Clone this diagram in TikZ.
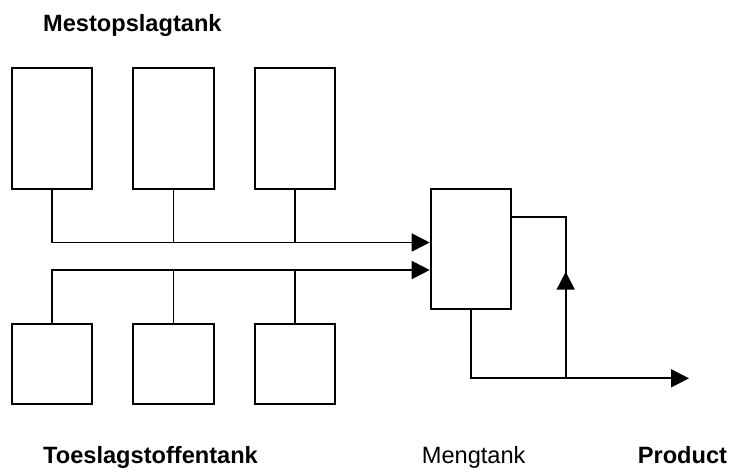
\documentclass[tikz,border=0pt]{standalone}
\usepackage{fontspec}
\setmainfont{Liberation Sans}
\usetikzlibrary{arrows.meta}

\begin{document}
\begin{tikzpicture}[x=1pt,y=-1pt,
    tank/.style={draw,line width=1.8pt,inner sep=0pt,minimum width=80.5pt},
    pipe/.style={line width=1.8pt},
    flow/.style={pipe,-{Triangle[length=18pt,width=18pt]}},
    lbl/.style={anchor=base west,inner sep=0pt,font=\fontsize{23.6}{28}\selectfont}]
  \useasboundingbox (0,0) rectangle (731,468);
  % tanks
  \foreach \x/\n in {52/1,173.5/2,295/3} {
    \node[tank,minimum height=121pt] (mest\n) at (\x,128.2) {};
    \node[tank,minimum height=80pt] (toe\n) at (\x,364.3) {};
  }
  \node[tank,minimum height=120pt] (meng) at (470.85,249.3) {};
  % labels
  \node[lbl] (lmest) at (43,32) {\bfseries Mestopslagtank};
  \node[lbl] (ltoe) at (43,463) {\bfseries Toeslagstoffentank};
  \node[lbl] (lmeng) at (421.7,463) {Mengtank};
  \node[lbl] (lprod) at (637.7,463) {\bfseries Product};
  % pipes
  \coordinate (mbus) at (52,242.5);
  \coordinate (tbus) at (52,270);
  \coordinate (split) at (565.7,378.3);
  \coordinate (out) at (689,378.3);
  \draw[flow] (mest1.south) -- (mbus) -- (mbus -| meng.west);
  \draw[flow] (toe1.north) -- (tbus) -- (tbus -| meng.west);
  \foreach \n in {2,3} {
    \draw[pipe] (mest\n.south) -- (mest\n.south |- mbus);
    \draw[pipe] (toe\n.north) -- (toe\n.north |- tbus);
  }
  \draw[flow] (meng.south) |- (out);
  \draw[pipe] ([yshift=32.6pt]meng.east) -| (split);
  \draw[flow] (split) -- ++(0,-106.6);
\end{tikzpicture}
\end{document}
